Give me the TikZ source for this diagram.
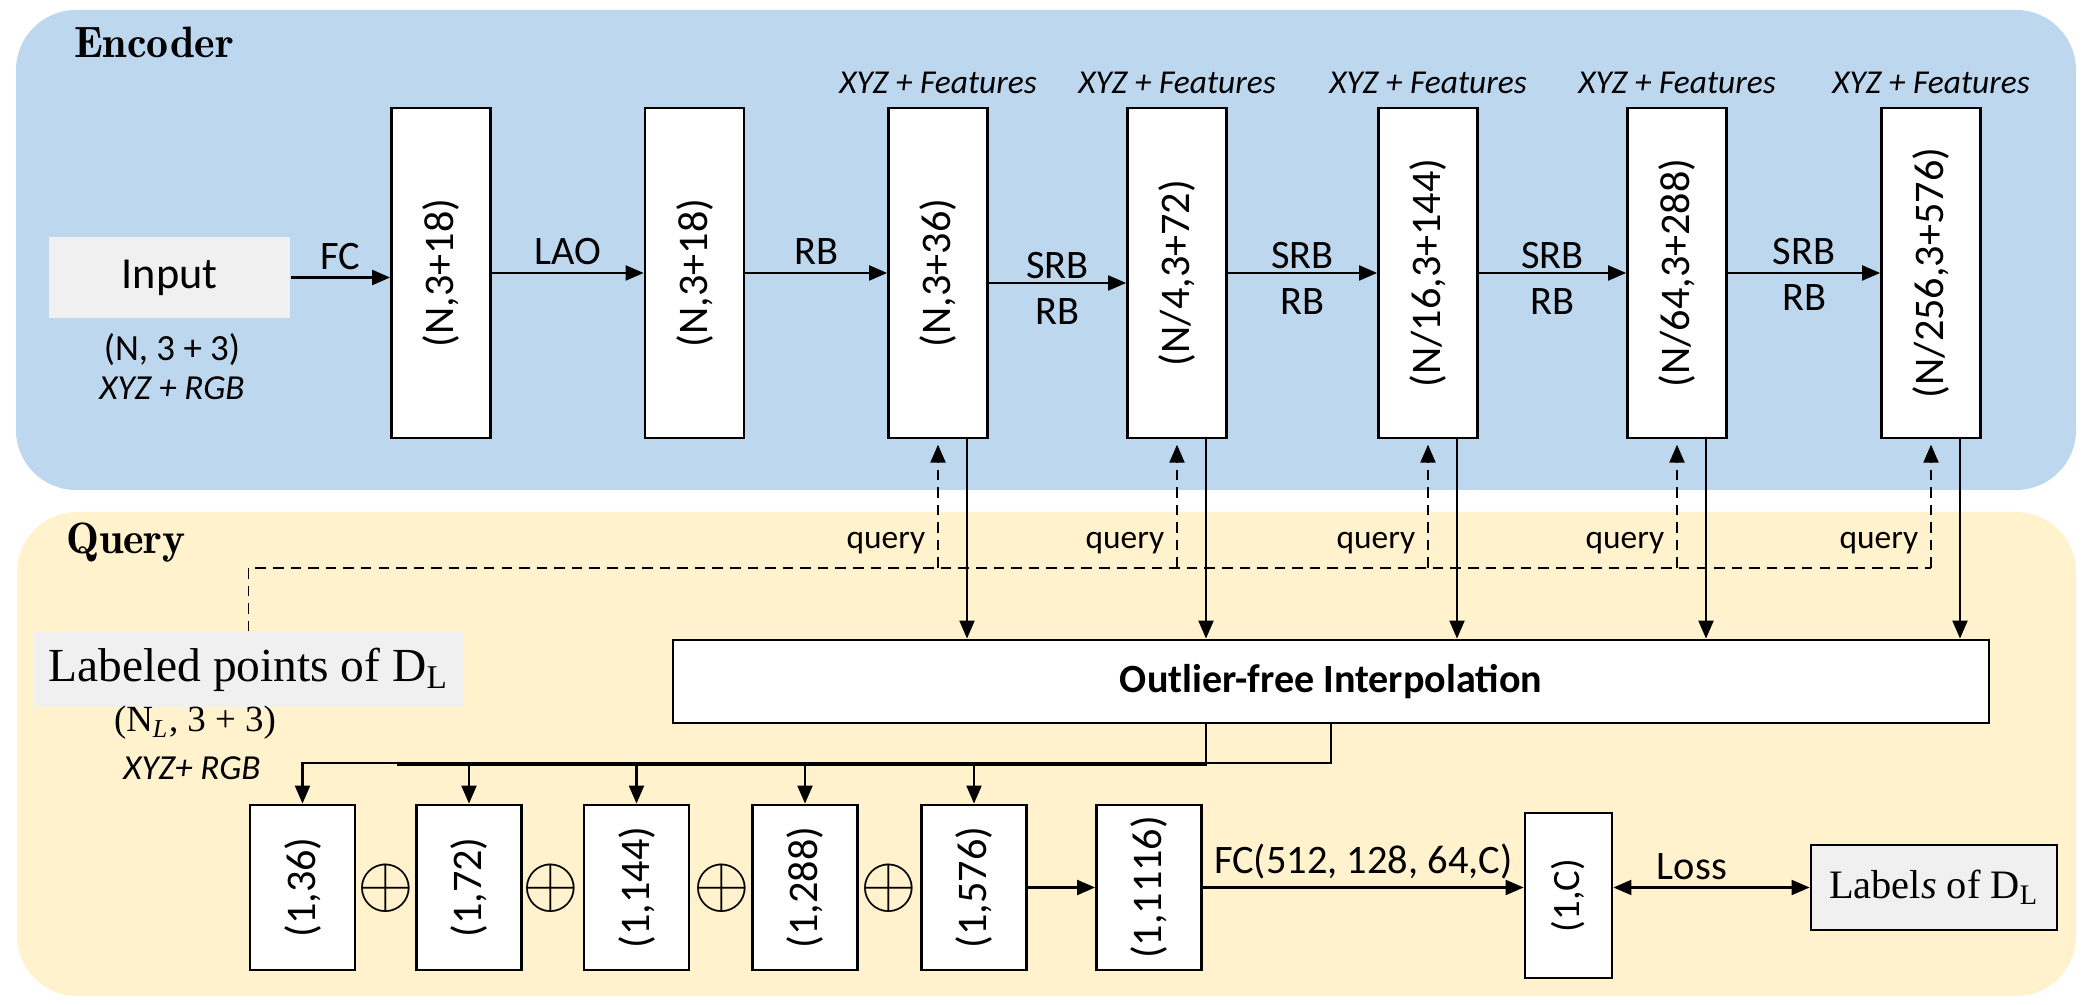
\documentclass[tikz,border=0pt]{standalone}
\usepackage{fontspec}
\setmainfont{Carlito}
\newfontfamily\timesf{Liberation Serif}
\usetikzlibrary{arrows.meta, positioning, calc}

\definecolor{azulenc}{HTML}{BDD7EE}
\definecolor{amarq}{HTML}{FFF2CC}
\definecolor{grisc}{HTML}{F0F0F0}

\newcommand{\fcaja}{\fontsize{12}{14}\selectfont}
\newcommand{\fetiq}{\fontsize{11.5}{13}\selectfont}
\newcommand{\fpeq}{\fontsize{9.5}{11}\selectfont}
\newcommand{\ftitulo}{\fontfamily{lmr}\bfseries\fontsize{12.5}{14}\selectfont}

\begin{document}
\begin{tikzpicture}

	\useasboundingbox (0,0) rectangle (20.87,10.05);

	\tikzstyle{caja}=[draw, fill=white, line width=0.8pt, inner sep=0pt, minimum width=0.99cm, minimum height=3.3cm, font=\fcaja]
	\tikzstyle{cajita}=[draw, fill=white, line width=0.8pt, inner sep=0pt, minimum width=1.05cm, minimum height=1.65cm, font=\fcaja]
	\tikzstyle{flecha}=[-{Triangle[length=1.8mm, width=1.5mm]}, line width=0.6pt]
	\tikzstyle{consulta}=[dash pattern=on 3pt off 2pt, line width=0.5pt]
	\tikzstyle{etiq}=[font=\fetiq, inner sep=2pt]
	\tikzstyle{feat}=[font=\fpeq\itshape, above]
	\tikzstyle{suma}=[font=\fontsize{20}{20}\selectfont]

	\fill[azulenc, rounded corners=0.6cm] (0.16,5.15) rectangle (20.76,9.95); % ENCODER
	\fill[amarq, rounded corners=0.6cm] (0.17,0.09) rectangle (20.76,4.93); % QUERY

	\coordinate (t_1) at (1.54, 9.63);
	\coordinate (t_2) at (1.26, 4.62);

	\coordinate (in_1) at (1.695, 7.275); % ENTRADA
	\coordinate (e_1) at (4.41, 7.32); % ENCODER
	\coordinate (e_2) at (6.945, 7.32); % ENCODER
	\coordinate (e_3) at (9.38, 7.32); % ENCODER
	\coordinate (e_4) at (11.77, 7.32); % ENCODER
	\coordinate (e_5) at (14.28, 7.32); % ENCODER
	\coordinate (e_6) at (16.77, 7.32); % ENCODER
	\coordinate (e_7) at (19.31, 7.32); % ENCODER

	\coordinate (l_p) at (2.485, 3.355); % PUNTOS ETIQUETADOS
	\coordinate (interp) at (13.31, 3.235); % INTERPOLACION
	\coordinate (q_0) at (2.485, 4.37);

	\coordinate (s_1) at (3.025, 1.175); % CONCATENACION
	\coordinate (s_2) at (4.69, 1.175); % CONCATENACION
	\coordinate (s_3) at (6.365, 1.175); % CONCATENACION
	\coordinate (s_4) at (8.05, 1.175); % CONCATENACION
	\coordinate (s_5) at (9.74, 1.175); % CONCATENACION
	\coordinate (s_6) at (11.49, 1.175); % CONCATENACION
	\coordinate (c_1) at (15.685, 1.095); % SALIDA
	\coordinate (lab) at (19.34, 1.175); % SALIDA

	\node[font=\ftitulo] (t_1) at (t_1) {Encoder};
	\node[font=\ftitulo] (t_2) at (t_2) {Query};

	\node[fill=grisc, minimum width=2.41cm, minimum height=0.81cm, font=\fontsize{12.6}{14}\selectfont] (in_1) at (in_1) {Input};
	\node[font=\fontsize{10.5}{12}\selectfont] (in_2) at (1.72, 6.55) {(N, 3 + 3)};
	\node[font=\fontsize{10}{12}\selectfont\itshape] (in_3) at (1.72, 6.17) {XYZ + RGB};

	\node[caja] (e_1) at (e_1) {\rotatebox{90}{(N,3+18)}};
	\node[caja] (e_2) at (e_2) {\rotatebox{90}{(N,3+18)}};
	\node[caja] (e_3) at (e_3) {\rotatebox{90}{(N,3+36)}};
	\node[caja] (e_4) at (e_4) {\rotatebox{90}{(N/4,3+72)}};
	\node[caja] (e_5) at (e_5) {\rotatebox{90}{(N/16,3+144)}};
	\node[caja] (e_6) at (e_6) {\rotatebox{90}{(N/64,3+288)}};
	\node[caja] (e_7) at (e_7) {\rotatebox{90}{(N/256,3+576)}};

	\node[feat] (x_3) at (e_3.north) {XYZ + Features};
	\node[feat] (x_4) at (e_4.north) {XYZ + Features};
	\node[feat] (x_5) at (e_5.north) {XYZ + Features};
	\node[feat] (x_6) at (e_6.north) {XYZ + Features};
	\node[feat] (x_7) at (e_7.north) {XYZ + Features};

	\draw[flecha] (in_1.east) -- node[etiq, above] {FC} (in_1.east -| e_1.west);
	\draw[flecha] (e_1) -- node[etiq, above] {LAO} (e_2);
	\draw[flecha] (e_2) -- node[etiq, above] {RB} (e_3);
	\draw[flecha] ([yshift=-0.1cm]e_3.east) -- node[etiq, above, inner sep=1pt] {SRB} node[etiq, below=3pt, inner sep=1pt] {RB} ([yshift=-0.1cm]e_4.west);
	\draw[flecha] (e_4) -- node[etiq, above, inner sep=1pt] {SRB} node[etiq, below=3pt, inner sep=1pt] {RB} (e_5);
	\draw[flecha] (e_5) -- node[etiq, above, inner sep=1pt] {SRB} node[etiq, below=3pt, inner sep=1pt] {RB} (e_6);
	\draw[flecha] (e_6) -- node[etiq, above, inner sep=2pt] {SRB} node[etiq, below=2pt, inner sep=1pt] {RB} (e_7);

	\node[fill=grisc, minimum width=4.31cm, minimum height=0.75cm, font=\timesf\fontsize{13.5}{15}\selectfont] (l_p) at (l_p) {Labeled points of D\textsubscript{L}};
	\node[font=\timesf\fontsize{10.5}{12}\selectfont] (l_2) at (1.95, 2.82) {(N\textsubscript{\itshape L}, 3 + 3)};
	\node[font=\fontsize{10}{12}\selectfont\itshape] (l_3) at (1.92, 2.37) {XYZ+ RGB};

	\node[draw, fill=white, line width=0.8pt, minimum width=13.16cm, minimum height=0.83cm, font=\fontsize{11.4}{13}\selectfont\bfseries] (interp) at (interp) {Outlier-free Interpolation};

	% CONSULTAS
	\draw[consulta] (l_p.north) -- (q_0) -- (q_0 -| e_7);
	\draw[consulta, flecha, shorten >=1.5pt] (q_0 -| e_3) -- node[pos=0.19, left, font=\fpeq] {query} (e_3.south);
	\draw[consulta, flecha, shorten >=1.5pt] (q_0 -| e_4) -- node[pos=0.19, left, font=\fpeq] {query} (e_4.south);
	\draw[consulta, flecha, shorten >=1.5pt] (q_0 -| e_5) -- node[pos=0.19, left, font=\fpeq] {query} (e_5.south);
	\draw[consulta, flecha, shorten >=1.5pt] (q_0 -| e_6) -- node[pos=0.19, left, font=\fpeq] {query} (e_6.south);
	\draw[consulta, flecha, shorten >=1.5pt] (q_0 -| e_7) -- node[pos=0.19, left, font=\fpeq] {query} (e_7.south);

	\draw[flecha] ([xshift=0.29cm]e_3.south) -- ([xshift=0.29cm]e_3.south |- interp.north);
	\draw[flecha] ([xshift=0.29cm]e_4.south) -- ([xshift=0.29cm]e_4.south |- interp.north);
	\draw[flecha] ([xshift=0.29cm]e_5.south) -- ([xshift=0.29cm]e_5.south |- interp.north);
	\draw[flecha] ([xshift=0.29cm]e_6.south) -- ([xshift=0.29cm]e_6.south |- interp.north);
	\draw[flecha] ([xshift=0.29cm]e_7.south) -- ([xshift=0.29cm]e_7.south |- interp.north);

	\node[cajita] (s_1) at (s_1) {\rotatebox{90}{(1,36)}};
	\node[cajita] (s_2) at (s_2) {\rotatebox{90}{(1,72)}};
	\node[cajita] (s_3) at (s_3) {\rotatebox{90}{(1,144)}};
	\node[cajita] (s_4) at (s_4) {\rotatebox{90}{(1,288)}};
	\node[cajita] (s_5) at (s_5) {\rotatebox{90}{(1,576)}};
	\node[cajita] (s_6) at (s_6) {\rotatebox{90}{(1,1116)}};

	\node[suma] (o_1) at (3.86, 1.17) {$\oplus$};
	\node[suma] (o_2) at (5.51, 1.17) {$\oplus$};
	\node[suma] (o_3) at (7.22, 1.17) {$\oplus$};
	\node[suma] (o_4) at (8.89, 1.17) {$\oplus$};

	\node[cajita, minimum width=0.87cm, font=\fontsize{11}{13}\selectfont] (c_1) at (c_1) {\rotatebox{90}{(1,C)}};
	\node[draw, fill=grisc, line width=0.8pt, minimum width=2.46cm, minimum height=0.85cm, font=\timesf\fontsize{11.5}{13}\selectfont] (lab) at (lab) {Label\textit{s} of D\textsubscript{L}};

	% SALIDA DE LA INTERPOLACION
	\coordinate (b_1) at (13.31, 2.42);
	\coordinate (b_2) at (3.97, 2.40);
	\draw[flecha] (interp.south) |- (b_1 -| s_1) -- (s_1.north);
	\draw[line width=0.6pt] ([xshift=-1.25cm]interp.south) |- (b_2);
	\draw[flecha] (b_1 -| s_2) -- (s_2.north);
	\draw[flecha] (b_1 -| s_3) -- (s_3.north);
	\draw[flecha] (b_1 -| s_4) -- (s_4.north);
	\draw[flecha] (b_1 -| s_5) -- (s_5.north);

	\draw[flecha] (s_5) -- (s_6);
	\draw[flecha] (s_6.east) -- node[etiq, above] {FC(512, 128, 64,C)} (s_6.east -| c_1.west);
	\draw[{Triangle[length=1.8mm, width=1.5mm]}-{Triangle[length=1.8mm, width=1.5mm]}, line width=0.6pt] (c_1.east |- lab) -- node[etiq, pos=0.4, above] {Loss} (lab.west);

\end{tikzpicture}
\end{document}
